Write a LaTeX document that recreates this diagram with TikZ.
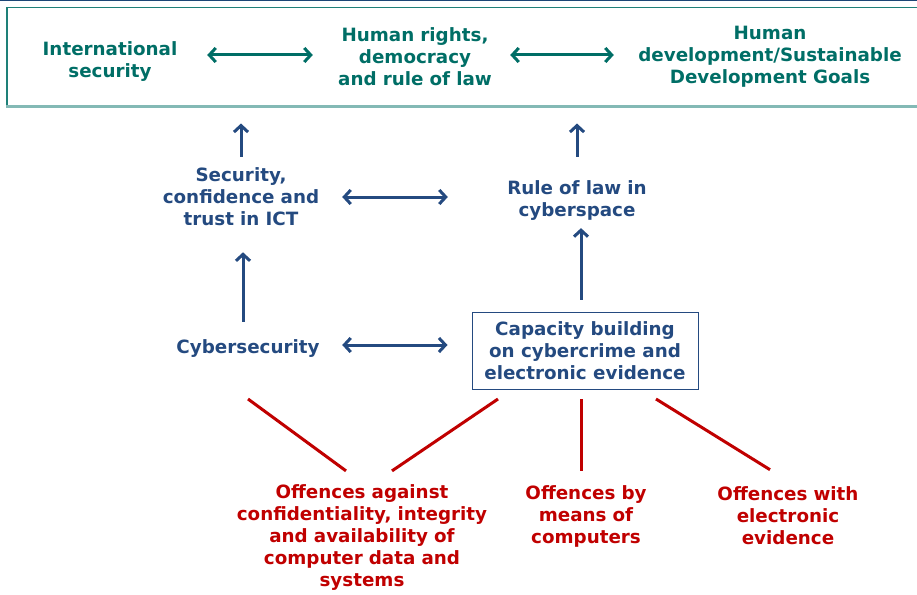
\documentclass[tikz,border=0pt]{standalone}
\usepackage{fontspec}
\setmainfont{DejaVu Sans}
\usetikzlibrary{arrows.meta}
\definecolor{goalcol}{RGB}{0,110,102}
\definecolor{midcol}{RGB}{36,74,128}
\definecolor{offcol}{RGB}{192,0,0}
\definecolor{bandcol}{RGB}{30,128,120}
\definecolor{rulecol}{RGB}{28,70,118}

\begin{document}
\begin{tikzpicture}[x=1pt,y=-1pt,
    txt/.style={inner sep=0pt,align=center,font=\bfseries\fontsize{18.3}{22}\selectfont},
    goal/.style={txt,text=goalcol},
    mid/.style={txt,text=midcol},
    off/.style={txt,text=offcol},
    barb/.tip={Straight Barb[length=6.5pt,width=14pt]},
    goalarr/.style={barb-barb,line width=3pt,goalcol},
    midarr/.style={barb-barb,line width=3pt,midcol},
    uparr/.style={-barb,line width=3pt,midcol},
    offline/.style={line width=3pt,offcol}]
  \useasboundingbox (0,0) rectangle (917,594);

  \draw[rulecol,line width=2pt] (0,0)--(917,0);
  \node[draw=bandcol,line width=1.5pt,minimum width=930pt,minimum height=98pt,inner sep=0pt,anchor=north west] (band) at (6,7) {};
  \draw[bandcol!55,line width=2.5pt] (band.south west)--(band.south east);

  % goals
  \node[goal,text width=150pt] (intsec) at (110,62) {International\\security};
  \node[goal,text width=170pt] (rights) at (415,57) {Human rights,\\democracy\\and rule of law};
  \node[goal,text width=290pt] (sdg) at (770,57) {Human\\development/Sustainable\\Development Goals};

  \draw[goalarr,shorten <=22pt,shorten >=17pt] ([yshift=7pt]intsec.east)--([yshift=7pt]intsec.east -| rights.west);
  \draw[goalarr,shorten <=10pt,shorten >=11pt] ([yshift=2pt]rights.east)--([yshift=2pt]rights.east -| sdg.west);

  % middle
  \node[mid,text width=170pt] (trust) at (241,197) {Security,\\confidence and\\trust in ICT};
  \node[mid,text width=150pt] (rol) at (577,201) {Rule of law in\\cyberspace};
  \node[mid,text width=160pt] (cyber) at (248,349) {Cybersecurity};
  \node[mid,draw=midcol,line width=1pt,minimum width=226pt,minimum height=77pt] (cap) at (585,350.5) {Capacity building\\on cybercrime and\\electronic evidence};

  \draw[uparr,shorten <=11pt,shorten >=17pt] (trust.north)--(trust.north |- band.south);
  \draw[uparr,shorten <=24pt,shorten >=17pt] (rol.north)--(rol.north |- band.south);
  \draw[uparr,shorten <=18pt,shorten >=26pt] ([xshift=-5pt]cyber.north)--([xshift=-5pt]cyber.north |- trust.south);
  \draw[uparr,shorten <=12pt,shorten >=7pt] ([xshift=-4pt]cap.north)--([xshift=-4pt]cap.north |- rol.south);

  \draw[midarr,shorten <=16pt,shorten >=54pt] (trust.east)--(trust.east -| rol.west);
  \draw[midarr,shorten <=14pt,shorten >=24pt] ([yshift=4pt]cyber.east)--([yshift=4pt]cyber.east -| cap.west);

  % offences
  \node[off,text width=280pt] (offcia) at (362,538) {Offences against\\confidentiality, integrity\\and availability of\\computer data and\\systems};
  \node[off,text width=160pt] (offmeans) at (586,516) {Offences by\\means of\\computers};
  \node[off,text width=170pt] (offevid) at (788,516) {Offences with\\electronic\\evidence};

  \coordinate (top1) at (248,399);
  \coordinate (top2) at (498,399);
  \coordinate (top3) at (581,399);
  \coordinate (top4) at (656,399);
  \draw[offline] (top1)--([xshift=-16pt,yshift=14pt]offcia.north);
  \draw[offline] (top2)--([xshift=30pt,yshift=14pt]offcia.north);
  \draw[offline] (top3)--([xshift=-5pt,yshift=14pt]offmeans.north);
  \draw[offline] (top4)--([xshift=-18pt,yshift=17pt]offevid.north);
\end{tikzpicture}
\end{document}
